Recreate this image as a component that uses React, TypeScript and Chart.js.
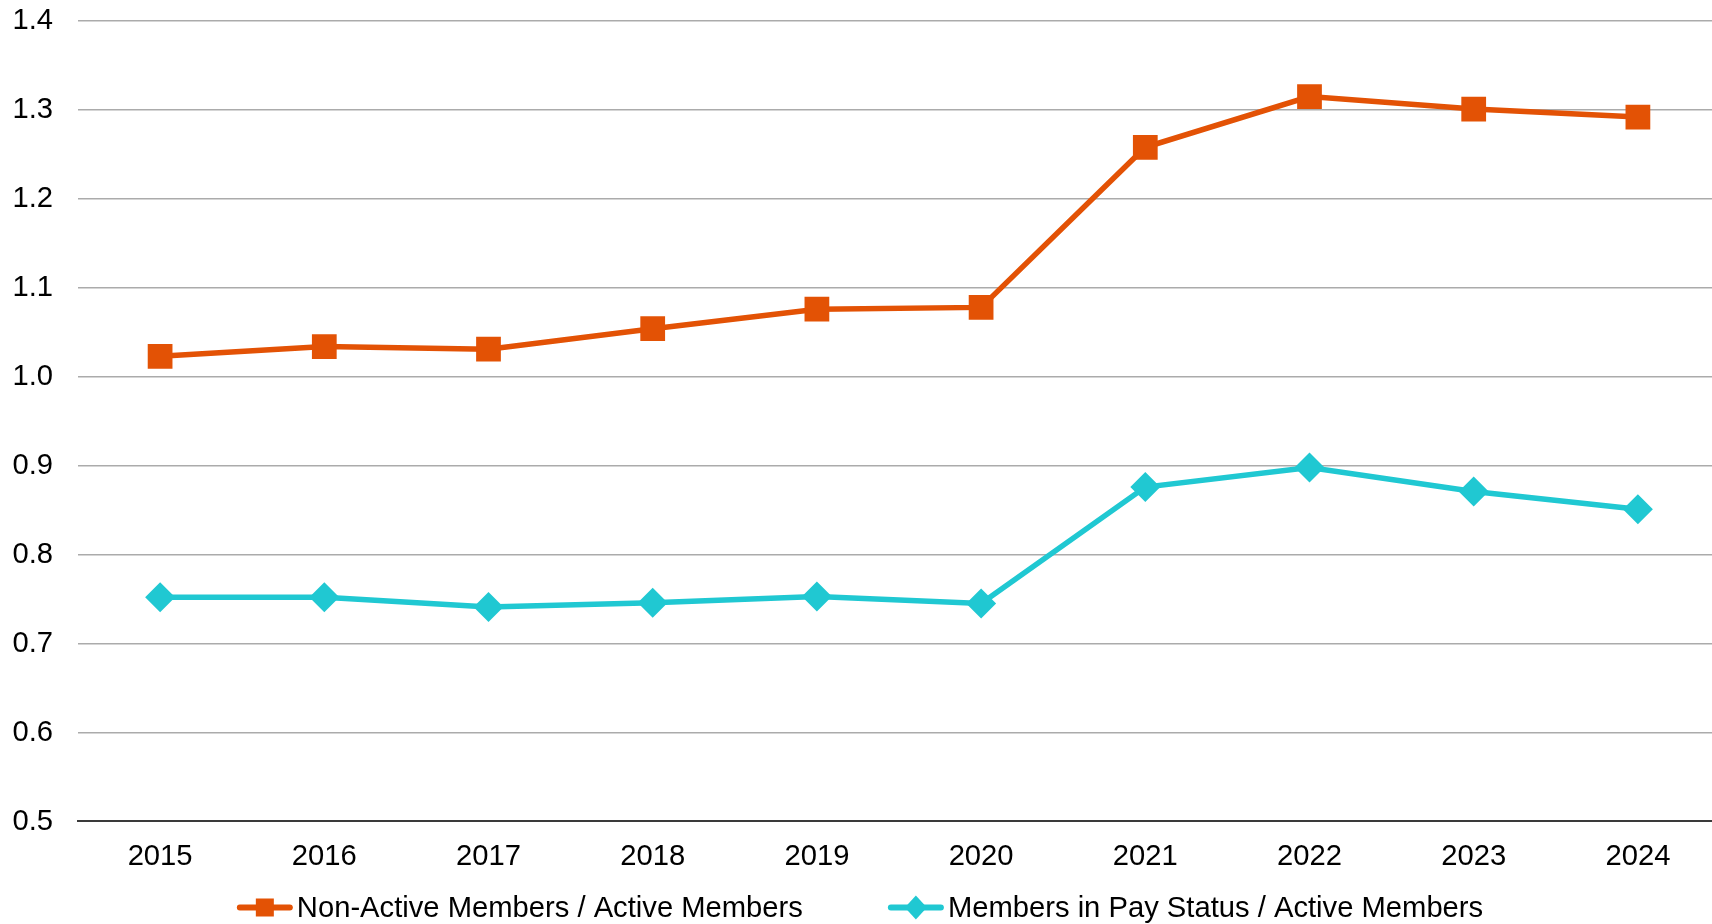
import React, { useEffect, useRef } from "react";
import { Chart, registerables } from "chart.js";

Chart.register(...registerables);

const years = ["2015", "2016", "2017", "2018", "2019", "2020", "2021", "2022", "2023", "2024"];
const nonActiveRatio = [1.023, 1.034, 1.031, 1.054, 1.076, 1.078, 1.258, 1.315, 1.301, 1.292];
const payStatusRatio = [0.752, 0.752, 0.741, 0.746, 0.753, 0.745, 0.876, 0.898, 0.871, 0.851];
const seriesLabels = ["Non-Active Members / Active Members", "Members in Pay Status / Active Members"];
const yMin = 0.5;
const yMax = 1.4;
const yStep = 0.1;

const ORANGE = "#E35205";
const CYAN = "#20C8D2";
const FONT = "'Liberation Sans', Arial, sans-serif";
const FS = 29.2;

const legendPlugin = {
  id: "customLegend",
  afterDraw(chart: any) {
    const ctx = chart.ctx;
    const ds = chart.data.datasets;
    ctx.save();
    ctx.font = `${FS}px ${FONT}`;
    const lineLen = 56;
    const gap = 4;
    const itemGap = 85;
    const widths = ds.map((d: any) => lineLen + gap + ctx.measureText(d.label).width);
    const total = widths.reduce((a: number, b: number) => a + b, 0) + itemGap * (ds.length - 1);
    let x = chart.width / 2 - total / 2;
    const y = 907.5;
    ds.forEach((d: any, i: number) => {
      ctx.strokeStyle = d.borderColor;
      ctx.lineWidth = 6;
      ctx.lineCap = "round";
      ctx.beginPath();
      ctx.moveTo(x + 3, y);
      ctx.lineTo(x + lineLen - 3, y);
      ctx.stroke();
      ctx.fillStyle = d.borderColor;
      const cx = x + lineLen / 2;
      if (d.pointStyle === "rect") {
        ctx.fillRect(cx - 9, y - 9, 18, 18);
      } else {
        ctx.beginPath();
        ctx.moveTo(cx, y - 12);
        ctx.lineTo(cx + 11, y);
        ctx.lineTo(cx, y + 12);
        ctx.lineTo(cx - 11, y);
        ctx.closePath();
        ctx.fill();
      }
      ctx.fillStyle = "#000";
      ctx.textAlign = "left";
      ctx.textBaseline = "middle";
      ctx.fillText(d.label, x + lineLen + gap, y + 1);
      x += widths[i] + itemGap;
    });
    ctx.restore();
  },
};

export default function App() {
  const ref = useRef<HTMLCanvasElement>(null);
  useEffect(() => {
    if (!ref.current) return;
    const chart = new Chart(ref.current, {
      type: "line",
      data: {
        labels: years,
        datasets: [
          {
            label: seriesLabels[0],
            data: nonActiveRatio,
            borderColor: ORANGE,
            backgroundColor: ORANGE,
            borderWidth: 5.5,
            pointStyle: "rect",
            pointRadius: 17.5,
            pointBorderWidth: 0,
            tension: 0,
          },
          {
            label: seriesLabels[1],
            data: payStatusRatio,
            borderColor: CYAN,
            backgroundColor: CYAN,
            borderWidth: 5.5,
            pointStyle: "rectRot",
            pointRadius: 15,
            pointBorderWidth: 0,
            tension: 0,
          },
        ],
      },
      options: {
        animation: false,
        responsive: false,
        maintainAspectRatio: false,
        layout: { autoPadding: false, padding: { top: 21, bottom: 32.5, left: 0, right: 0 } },
        plugins: { legend: { display: false }, tooltip: { enabled: false } },
        scales: {
          x: {
            offset: true,
            afterFit: (s: any) => {
              s.paddingLeft = 0;
              s.paddingRight = 0;
            },
            grid: { display: false, drawTicks: false },
            border: { display: true, color: "#3a3a3a", width: 2 },
            ticks: { color: "#000", font: { family: FONT, size: FS }, padding: 17.5, maxRotation: 0 },
          },
          y: {
            min: yMin,
            max: yMax,
            afterFit: (s: any) => {
              s.width = 78;
              s.paddingTop = 0;
              s.paddingBottom = 0;
            },
            grid: {
              drawTicks: false,
              color: (c: any) => (Math.abs(c.tick.value - yMin) < 1e-6 ? "rgba(0,0,0,0)" : "#ABABAB"),
              lineWidth: 1.5,
            },
            border: { display: false },
            ticks: {
              stepSize: yStep,
              color: "#000",
              font: { family: FONT, size: FS },
              padding: 25,
              callback: (v: any) => Number(v).toFixed(1),
            },
          },
        },
      },
      plugins: [legendPlugin],
    });
    return () => chart.destroy();
  }, []);
  return (
    <div style={{ position: "fixed", left: 0, top: 0, width: 1720, height: 924, background: "#fff" }}>
      <canvas ref={ref} width={1720} height={924} style={{ width: 1720, height: 924, display: "block" }} />
    </div>
  );
}
